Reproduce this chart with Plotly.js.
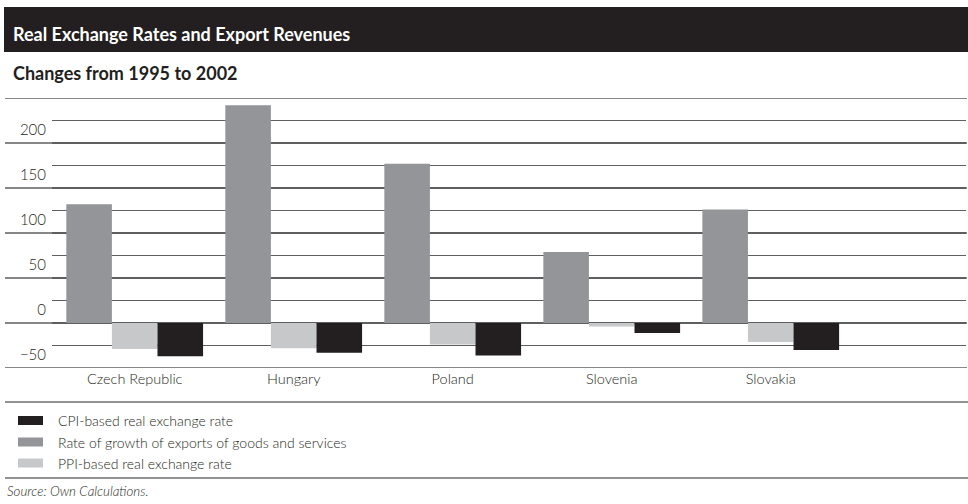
<!DOCTYPE html>
<html>
<head>
<meta charset="utf-8">
<script src="https://cdn.plot.ly/plotly-3.0.1.min.js"></script>
<style>html,body{margin:0;padding:0;background:#fff;}</style>
</head>
<body>
<div id="chart" style="width:968px;height:504px;"></div>
<script>
// ---- data ----
const countries = ["Czech Republic", "Hungary", "Poland", "Slovenia", "Slovakia"];
const exportGrowth = [132, 242, 177, 79, 126];   // Rate of growth of exports of goods and services
const ppiRate = [-29, -28, -24, -4, -21];         // PPI-based real exchange rate
const cpiRate = [-37, -33, -36, -11, -30];        // CPI-based real exchange rate
const yTickVals = [-50, -25, 0, 25, 50, 75, 100, 125, 150, 175, 200, 225, 250];
const yTickText = ["\u221250", "", "0", "", "50", "", "100", "", "150", "", "200", "", ""];
const legendLabels = ["CPI-based real exchange rate", "Rate of growth of exports of goods and services", "PPI-based real exchange rate"];

// ---- styling ----
const W = 968, H = 504;
const M = {l: 52, r: 2, t: 98, b: 136};
const plotW = W - M.l - M.r, plotH = H - M.t - M.b;
const px = x => (x - M.l) / plotW;          // pixel x -> paper
const py = y => (H - M.b - y) / plotH;      // pixel y -> paper
const C_DARK = "#231f20", C_MID = "#939598", C_LIGHT = "#c7c8ca", C_LINE = "#5e5f61";
const FONT = "Lato, 'Open Sans', sans-serif";

const traces = [
  {type: "bar", name: legendLabels[1], x: countries, y: exportGrowth, marker: {color: C_MID}, showlegend: false},
  {type: "bar", name: legendLabels[2], x: countries, y: ppiRate, marker: {color: C_LIGHT}, showlegend: false},
  {type: "bar", name: legendLabels[0], x: countries, y: cpiRate, marker: {color: C_DARK}, showlegend: false}
];

const shapes = [];
// long grid lines at multiples of 50 extend to the left edge
yTickVals.filter(v => v % 50 === 0).forEach(v => {
  shapes.push({type: "line", xref: "paper", yref: "y", x0: px(5), x1: px(967), y0: v, y1: v,
    line: {color: C_LINE, width: 1.4}, layer: "below"});
});
// title band
shapes.push({type: "rect", xref: "paper", yref: "paper", x0: px(4), x1: px(968), y0: py(52), y1: py(7),
  fillcolor: C_DARK, line: {width: 0}});
// separators
[402, 478].forEach(y => shapes.push({type: "line", xref: "paper", yref: "paper", x0: px(5), x1: px(968),
  y0: py(y), y1: py(y), line: {color: "#6d6e71", width: 1.6}}));
// legend swatches
const swatchColors = [C_DARK, C_MID, C_LIGHT];
const legendY = [420.5, 442, 463];
swatchColors.forEach((c, i) => shapes.push({type: "rect", xref: "paper", yref: "paper",
  x0: px(18), x1: px(43), y0: py(legendY[i] + 4.5), y1: py(legendY[i] - 4.5), fillcolor: c, line: {width: 0}}));

const annotations = [
  {text: "<b>Real Exchange Rates and Export Revenues</b>", xref: "paper", yref: "paper", x: px(11), y: py(34),
    xanchor: "left", yanchor: "middle", showarrow: false, font: {family: FONT, size: 18, color: "#ffffff", weight: 900}},
  {text: "<b>Changes from 1995 to 2002</b>", xref: "paper", yref: "paper", x: px(11), y: py(73),
    xanchor: "left", yanchor: "middle", showarrow: false, font: {family: FONT, size: 18, color: C_DARK, weight: 900}},
  {text: "<i>Source: Own Calculations.</i>", xref: "paper", yref: "paper", x: px(5), y: py(491),
    xanchor: "left", yanchor: "middle", showarrow: false, font: {family: FONT, size: 13.3, color: C_DARK, weight: 300}}
];
legendLabels.forEach((t, i) => annotations.push({text: t, xref: "paper", yref: "paper", x: px(56), y: py(legendY[i]),
  xanchor: "left", yanchor: "middle", showarrow: false, font: {family: FONT, size: 14, color: C_DARK, weight: 300}}));

const layout = {
  width: W, height: H,
  margin: M,
  paper_bgcolor: "#ffffff", plot_bgcolor: "#ffffff",
  barmode: "group", bargap: 0.14, bargroupgap: 0,
  showlegend: false,
  font: {family: FONT, color: C_DARK},
  xaxis: {type: "category", range: [-0.52, 5.228], showgrid: false, zeroline: false, showline: false, ticks: "",
    tickfont: {family: FONT, size: 14.5, color: C_DARK, weight: 300}, fixedrange: true},
  yaxis: {range: [-50, 250], tickmode: "array", tickvals: yTickVals, ticktext: yTickText,
    showgrid: true, gridcolor: C_LINE, gridwidth: 1.3, zeroline: false, showline: false, ticks: "",
    ticklabelshift: -13, ticklabelstandoff: 5,
    tickfont: {family: FONT, size: 15, color: C_DARK, weight: 300}, fixedrange: true},
  shapes: shapes,
  annotations: annotations
};

Plotly.newPlot("chart", traces, layout, {displayModeBar: false, staticPlot: true});
</script>
</body>
</html>
